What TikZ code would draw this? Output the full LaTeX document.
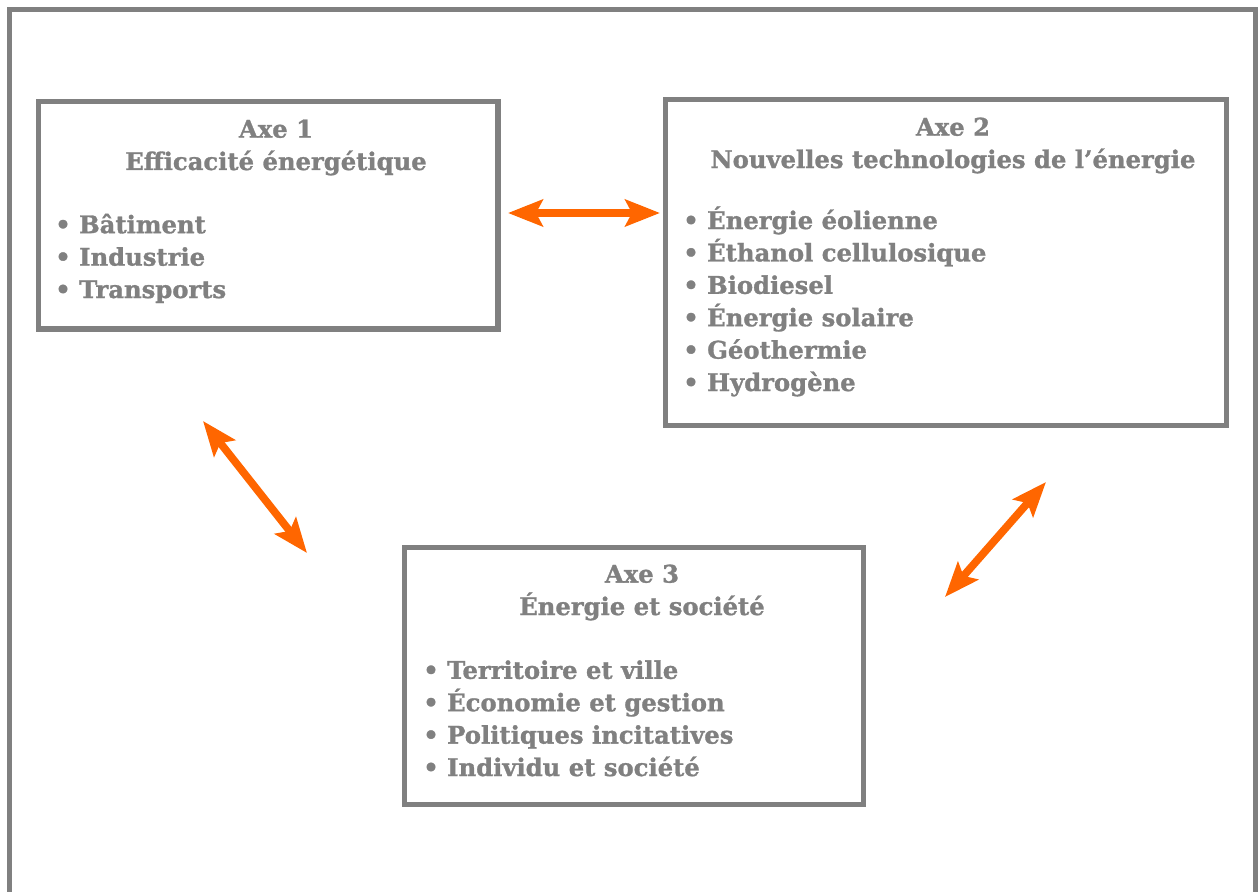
\documentclass[tikz,border=0pt]{standalone}
\usepackage{fontspec}
\setmainfont{DejaVu Serif}[BoldFeatures={FakeBold=1.2}]
\usetikzlibrary{arrows.meta,fit}
\definecolor{fg}{HTML}{808080}
\definecolor{arr}{HTML}{FF6600}
\begin{document}
\begin{tikzpicture}[x=0.75pt,y=-0.75pt,
  axebox/.style={draw=fg,line width=3.8pt,rectangle,inner sep=0pt},
  frameline/.style={draw=fg,line width=3.8pt},
  txt/.style={text=fg,font=\fontsize{18.2}{24.3}\selectfont\bfseries,inner sep=0pt},
  title/.style={txt,anchor=base,align=center},
  items/.style={txt,anchor=base west,align=left},
  link/.style={draw=arr,line width=5.8pt,{Stealth[length=26pt,width=20pt,inset=5pt]}-{Stealth[length=26pt,width=20pt,inset=5pt]}}
]
\useasboundingbox (0,0) rectangle (1258,892);
\draw[frameline] (9.5,892) -- (9.5,9.5) -- (1256,9.5) -- (1256,892);

\node[axebox,fit={(38.5,101.5) (498,329)}] (b1) {};
\node[axebox,fit={(665.5,99.5) (1226.5,425.5)}] (b2) {};
\node[axebox,fit={(404.5,547.5) (863.5,804.5)}] (b3) {};

% anchors are at the baseline of the last line
\node[title] (t1) at (276,170) {Axe 1\\Efficacité énergétique};
\node[items] (l1) at (55,298) {• Bâtiment\\• Industrie\\• Transports};

\node[title] (t2) at (953,168) {Axe 2\\Nouvelles technologies de l’énergie};
\node[items] (l2) at (683,391) {• Énergie éolienne\\• Éthanol cellulosique\\• Biodiesel\\• Énergie solaire\\• Géothermie\\• Hydrogène};

\node[title] (t3) at (642,615) {Axe 3\\Énergie et société};
\node[items] (l3) at (423,776) {• Territoire et ville\\• Économie et gestion\\• Politiques incitatives\\• Individu et société};

\coordinate (a12s) at (508,213);
\coordinate (a12e) at (660,213);
\coordinate (a13s) at (203,421);
\coordinate (a13e) at (307,553);
\coordinate (a23s) at (1046,482);
\coordinate (a23e) at (945,597);
\draw[link] (a12s) -- (a12e);
\draw[link] (a13s) -- (a13e);
\draw[link] (a23s) -- (a23e);
\end{tikzpicture}
\end{document}
